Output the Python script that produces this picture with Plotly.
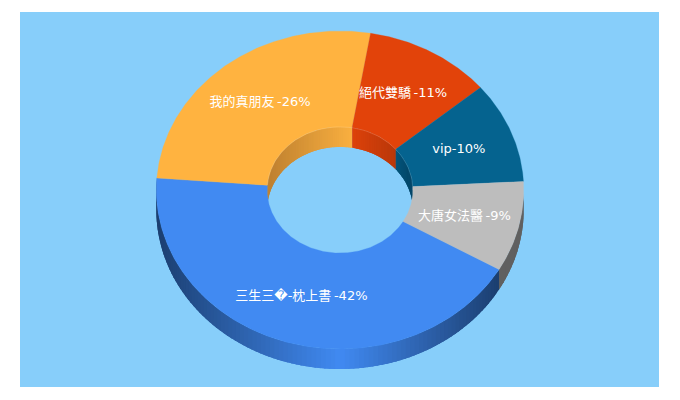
import numpy as np
import plotly.graph_objects as go

# Data (clockwise from the lower right)
names = ["三生三�-枕上書", "我的真朋友", "絕代雙驕", "vip", "大唐女法醫"]
shares = [42.9, 26.5, 11.2, 10.3, 9.2]
percent_labels = ["-42%", "-26%", "-11%", "-10%", "-9%"]
label_separators = ["\u2009", "\u2009", "\u2009", "", "\u2009"]
top_colors = ["#418AF2", "#FFB340", "#E2430A", "#05638F", "#BDBDBD"]
# wall colours as (x, colour) stops
outer_stops = [
    [(156, (28, 63, 112)), (340, (65, 138, 242)), (499, (28, 63, 112))],
    None, None, None,
    [(499, (96, 96, 96)), (523, (96, 96, 96))],
]
inner_stops = [
    None,
    [(267, (190, 128, 48)), (352, (250, 176, 64))],
    [(352, (222, 66, 10)), (397, (184, 56, 10))],
    [(397, (4, 84, 122)), (413, (3, 68, 102))],
    None,
]
START_DEG = 30.0
CX, CY, RX, RY, DEPTH = 340.0, 190.0, 183.7, 159.0, 20.0
INNER = 0.397
LABEL_R = 0.7
BG = "#87CEFA"

fig = go.Figure()
skip = dict(mode="lines", hoverinfo="skip", showlegend=False, fill="toself")


def rgb(stops, x):
    xs = [s[0] for s in stops]
    return "rgb(%d,%d,%d)" % tuple(
        np.interp(x, xs, [s[1][i] for s in stops]) for i in range(3)
    )


def arc(r, a0, a1, n):
    t = np.radians(np.linspace(a0, a1, n))
    return CX + RX * r * np.cos(t), CY + RY * r * np.sin(t)


edges = START_DEG + np.concatenate([[0], np.cumsum(shares)]) / sum(shares) * 360.0


def wall(r, a0, a1, stops):
    if stops is None or a1 <= a0:
        return
    n = max(2, int((a1 - a0) / 1.5) + 1)
    angles = np.linspace(a0, a1, n)
    for u, v in zip(angles[:-1], angles[1:]):
        # each strip runs on under the next one, so no seams show between them
        x, y = arc(r, u, min(v + 2.0, a1), 4)
        col = rgb(stops, sum(arc(r, u, v, 2)[0]) / 2)
        fig.add_trace(go.Scatter(
            x=np.r_[x, x[::-1], x[0]],
            y=np.r_[y, y[::-1] + DEPTH, y[0]],
            fillcolor=col, line=dict(color=col, width=0), **skip))


# Outer walls: front half only
for i, stops in enumerate(outer_stops):
    for shift in (-360, 0, 360):
        a0, a1 = edges[i] + shift, edges[i + 1] + shift
        wall(1.0, max(a0, 0), min(a1, 180), stops)
    if i == 0:
        wall(1.0, 180, edges[1], [(156, stops[0][1]), (160, stops[0][1])])

# Inner walls: back half only
for i, stops in enumerate(inner_stops):
    for shift in (-360, 0, 360):
        a0, a1 = edges[i] + shift, edges[i + 1] + shift
        wall(INNER, max(a0, 180), min(a1, 360), stops)

# Top faces
for i, col in enumerate(top_colors):
    n = int((edges[i + 1] - edges[i]) * 2) + 2
    ox, oy = arc(1.0, edges[i], edges[i + 1], n)
    ix, iy = arc(INNER, edges[i + 1], edges[i], n)
    fig.add_trace(go.Scatter(
        x=np.r_[ox, ix, ox[0]], y=np.r_[oy, iy, oy[0]],
        fillcolor=col, line=dict(color=col, width=0.3), **skip))

# Faint highlight along the rim of the hole
hx, hy = arc(INNER, edges[1], 360, 60)
fig.add_trace(go.Scatter(
    x=hx, y=hy, mode="lines", hoverinfo="skip", showlegend=False,
    line=dict(color="rgba(255,255,255,0.18)", width=0.8)))

# Labels
mid = np.radians((edges[:-1] + edges[1:]) / 2)
fig.add_trace(go.Scatter(
    x=CX + RX * LABEL_R * np.cos(mid) - 0.7,
    y=CY + RY * LABEL_R * np.sin(mid) + 0.6,
    mode="text",
    text=[n + s + p for n, s, p in zip(names, label_separators, percent_labels)],
    textposition="middle center",
    textfont=dict(family="DejaVu Sans, Noto Sans CJK TC, sans-serif", size=13, color="#FFFFFF"),
    hoverinfo="skip", showlegend=False,
))

fig.update_layout(
    width=680, height=400,
    margin=dict(l=20, r=21, t=12, b=13, pad=0),
    paper_bgcolor="#FFFFFF", plot_bgcolor=BG,
    xaxis=dict(range=[20, 659], visible=False, fixedrange=True),
    yaxis=dict(range=[387, 12], visible=False, fixedrange=True),
)
fig.write_html("out.html", config={"displayModeBar": False},
               post_script="document.body.style.margin='0';")
